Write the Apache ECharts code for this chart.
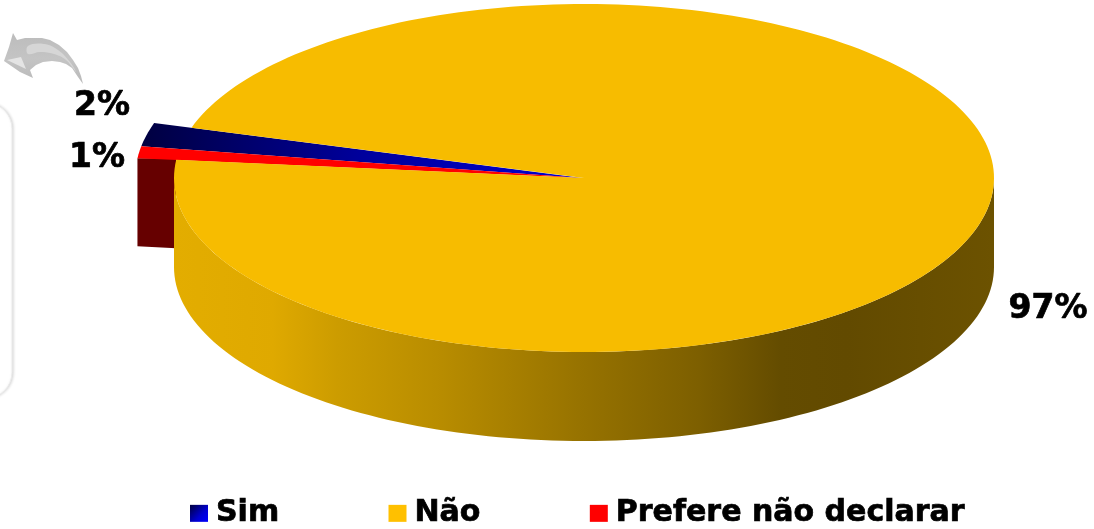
<!DOCTYPE html>
<html><head><meta charset="utf-8">
<style>html,body{margin:0;padding:0;background:#fff}#c{width:1094px;height:529px}</style>
<script src="https://cdn.jsdelivr.net/npm/echarts@6/dist/echarts.min.js"></script>
</head><body><div id="c"></div>
<script>
const categories = ['Sim', 'Não', 'Prefere não declarar'];
const values = [2, 97, 1];

const FONT = '"DejaVu Sans", Verdana, sans-serif';
const TOP = {cx: 584, cy: 178, rx: 410, ry: 174};
const PULLED = {cx: 582, cy: 178, rx: 447, ry: 190};
const DEPTH = 89;
const START_DEG = 170.4; // clockwise from here
const total = values.reduce((a, b) => a + b, 0);

const geom = values.map(v => v < 10 ? PULLED : TOP);
const fills = [
  {type: 'linear', x: 0, y: 0, x2: 1, y2: 0, colorStops: [{offset: 0, color: '#000040'}, {offset: 0.5, color: '#00009c'}, {offset: 1, color: '#0000d0'}]},
  '#f7bc00',
  '#ff0000'
];
const legendFills = [
  {type: 'linear', x: 0, y: 0, x2: 1, y2: 1, colorStops: [{offset: 0, color: '#00003c'}, {offset: 0.6, color: '#0000d0'}, {offset: 1, color: '#0000ff'}]},
  '#ffc000',
  '#ff0000'
];
const wallFills = [
  '#00002a',
  {type: 'linear', x: 0, y: 0, x2: 1, y2: 0, colorStops: [
    {offset: 0, color: '#e3ad00'}, {offset: 0.12, color: '#dfa900'}, {offset: 0.2, color: '#cc9c00'},
    {offset: 0.32, color: '#b98d00'}, {offset: 0.5, color: '#967200'}, {offset: 0.64, color: '#7d5f00'},
    {offset: 0.74, color: '#644c00'}, {offset: 0.82, color: '#624a00'}, {offset: 1, color: '#6c5200'}
  ]},
  '#660000'
];
const labelAt = [[102, 106.5], [1048, 309.5], [97, 158.5]];

function pt(g, deg, dy) {
  const t = deg * Math.PI / 180;
  return [g.cx + g.rx * Math.cos(t), g.cy - g.ry * Math.sin(t) + (dy || 0)];
}
function arc(g, a, b, dy) {
  const n = Math.max(2, Math.ceil(Math.abs(b - a) / 1.5));
  const out = [];
  for (let i = 0; i <= n; i++) out.push(pt(g, a + (b - a) * i / n, dy));
  return out;
}
function sliceAngles(i) {
  let before = 0;
  for (let k = 0; k < i; k++) before += values[k];
  return [START_DEG - before / total * 360, START_DEG - (before + values[i]) / total * 360];
}
function wallRange(a, b) {
  const segs = [];
  for (const k of [-2, -1, 0, 1]) {
    const lo = Math.max(b, 180 + 360 * k), hi = Math.min(a, 360 + 360 * k);
    if (hi > lo) segs.push([hi, lo]);
  }
  return segs;
}

function renderSlice(i) {
  return function (params, api) {
    const g = geom[i];
    const [a, b] = sliceAngles(i);
    const children = [];
    if (i === 2) {
      const x0 = pt(g, a, 0);
      children.push({type: 'polygon', z2: 1, shape: {points: [
        x0, [TOP.cx - TOP.rx + 2, x0[1]], [TOP.cx - TOP.rx + 2, x0[1] + DEPTH + 1], [x0[0], x0[1] + DEPTH - 1]
      ]}, style: {fill: wallFills[i]}});
    }
    if (i === 1) {
      wallRange(a, b).forEach(([p, q]) => {
        const pts = arc(g, p, q, 0).concat(arc(g, q, p, DEPTH));
        children.push({type: 'polygon', z2: 2, shape: {points: pts}, style: {fill: wallFills[i]}});
      });
    }
    const topPts = [[g.cx, g.cy]].concat(arc(g, a, b, 0));
    children.push({type: 'polygon', z2: 3, shape: {points: topPts}, style: {fill: fills[i]}});
    children.push({type: 'text', z2: 5, x: labelAt[i][0], y: labelAt[i][1], style: {
      text: values[i] + '%', font: 'bold 33px ' + FONT, fill: '#000', align: 'center', verticalAlign: 'middle',
      stroke: '#000', lineWidth: 0.7
    }});
    return {type: 'group', children};
  };
}

const arrow = [[13,33],[17,40],[25,38],[33,38],[42,38],[50,40],[59,45],[67,52],[73,60],[78,68],[81,76],[83,84],[78,77],[72,68],[66,64],[60,62],[52,61],[43,62],[36,65],[30,70],[33,78],[20,72],[4,61],[9,47]];
const arrowFacet = [[7,60],[21,57],[26,69]];
const arrowGloss = [[28,46],[44,44],[58,50],[70,62],[76,72],[66,60],[54,54],[40,52],[28,54]];

const chart = echarts.init(document.getElementById('c'), null, {renderer: 'canvas'});
chart.setOption({
  animation: false,
  backgroundColor: '#fff',
  legend: {
    left: 190, top: 498, padding: 0, itemGap: 109, itemWidth: 18, itemHeight: 17,
    data: categories,
    icon: 'rect',
    textStyle: {fontFamily: FONT, fontWeight: 'bold', fontSize: 30, color: '#000', padding: [4, 0, 0, 3],
      textBorderColor: '#000', textBorderWidth: 0.7}
  },
  graphic: [
    {type: 'rect', z: -1, shape: {x: -39, y: 103, width: 51, height: 295, r: 30},
     style: {fill: '#fff', stroke: '#ececec', lineWidth: 1, shadowBlur: 3, shadowColor: 'rgba(0,0,0,0.15)', shadowOffsetX: 1}},
    {type: 'polygon', shape: {points: arrow}, style: {fill: {type: 'linear', x: 0, y: 0, x2: 0, y2: 1, colorStops: [
      {offset: 0, color: '#bcbcbc'}, {offset: 0.5, color: '#c4c4c4'}, {offset: 1, color: '#bababa'}]}}},
    {type: 'polygon', z: 1, shape: {points: arrowGloss, smooth: 0.4}, style: {fill: '#d6d6d6'}},
    {type: 'polygon', z: 1, shape: {points: arrowFacet}, style: {fill: '#e4e4e4'}}
  ],
  series: categories.map((name, i) => ({
    name, type: 'custom', coordinateSystem: 'none',
    itemStyle: {color: legendFills[i]},
    data: [values[i]],
    renderItem: renderSlice(i),
    z: i === 1 ? 3 : 2
  }))
});
</script></body></html>
